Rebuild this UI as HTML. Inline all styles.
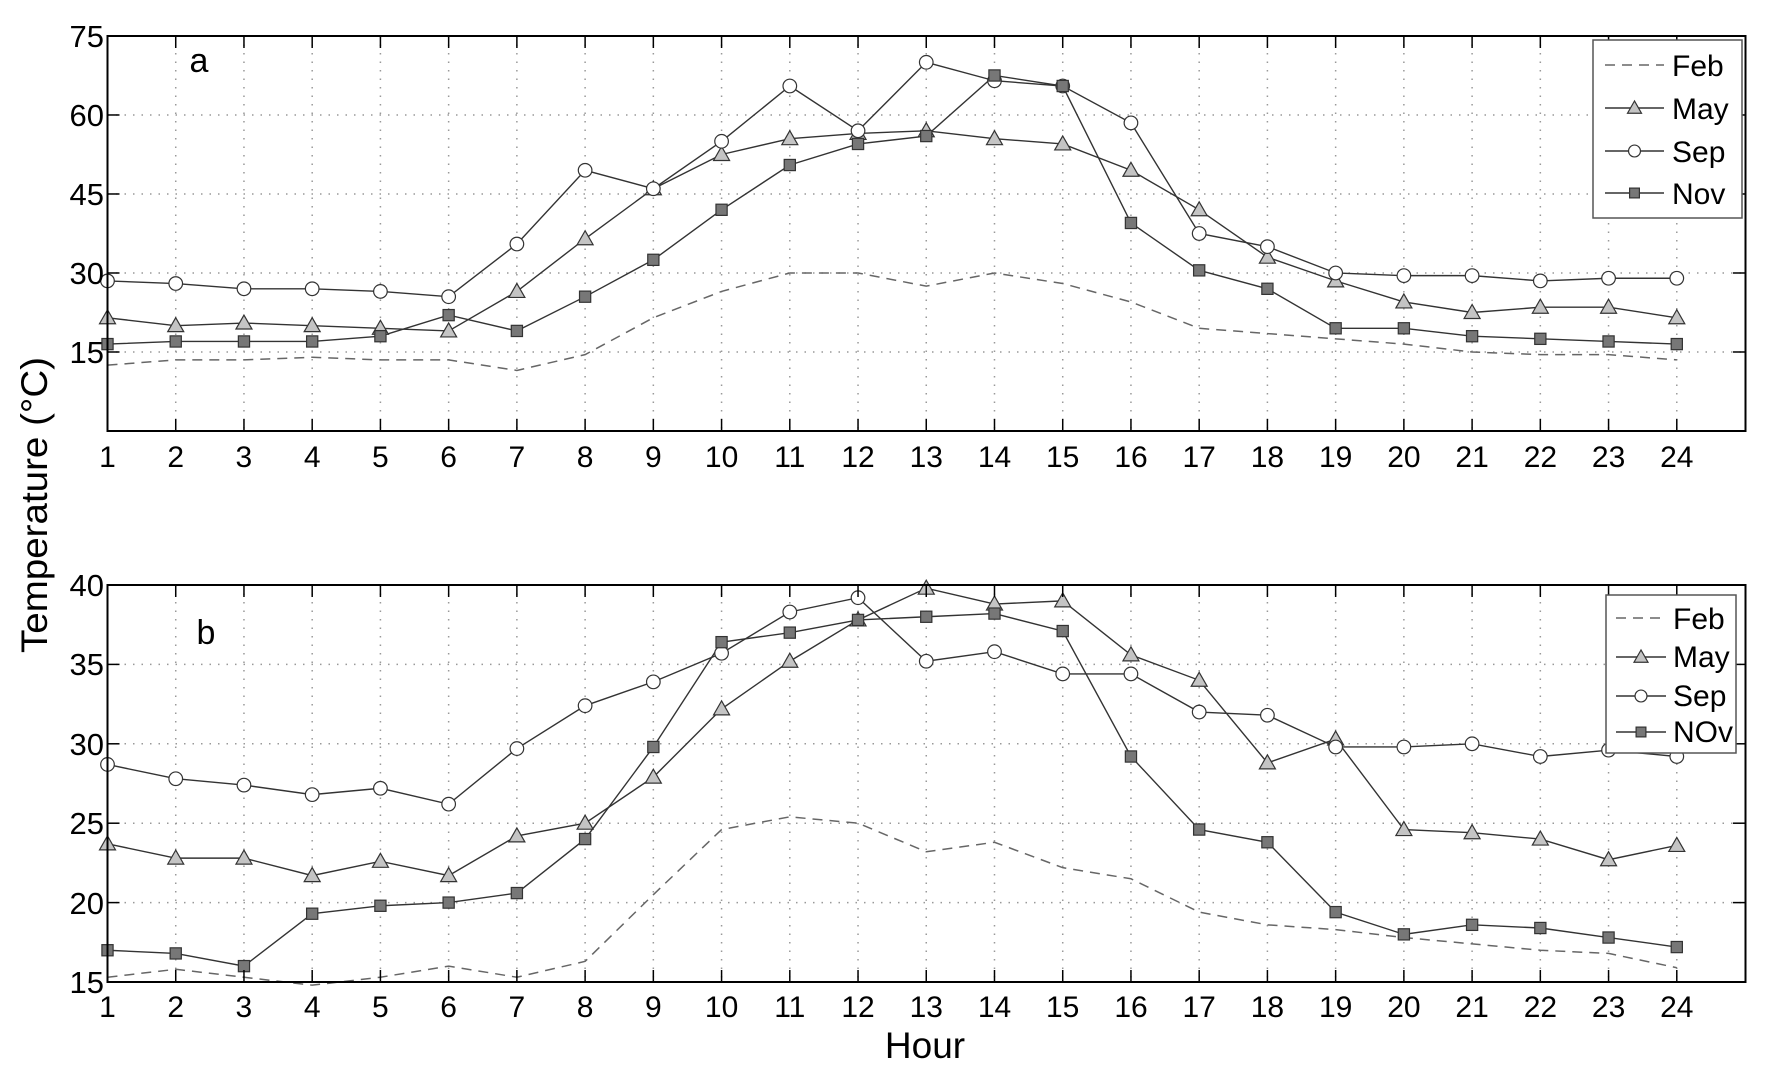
<!DOCTYPE html>
<html><head><meta charset="utf-8"><style>
html,body{margin:0;padding:0;background:#fff;}
svg{display:block;}
text{font-family:"Liberation Sans",Arial,sans-serif;fill:#000;}
</style></head><body>
<svg id="s" width="1772" height="1085" viewBox="0 0 1772 1085" xmlns="http://www.w3.org/2000/svg">
<g id="grid"></g>
<g id="series"></g>
<rect x="107.5" y="36" width="1638" height="395" fill="none" stroke="#000" stroke-width="2"/>
<rect x="107.5" y="585" width="1638" height="397" fill="none" stroke="#000" stroke-width="2"/>
<g id="ticks"></g>
<g font-size="31" text-anchor="end">
<text x="104" y="47">75</text><text x="104" y="126">60</text><text x="104" y="205">45</text><text x="104" y="284">30</text><text x="104" y="363">15</text>
<text x="104" y="596">40</text><text x="104" y="675">35</text><text x="104" y="755">30</text><text x="104" y="834">25</text><text x="104" y="914">20</text><text x="104" y="993">15</text>
</g>
<g font-size="30" text-anchor="middle">
<text x="107.5" y="467">1</text><text x="175.7" y="467">2</text><text x="243.9" y="467">3</text><text x="312.2" y="467">4</text><text x="380.4" y="467">5</text><text x="448.6" y="467">6</text><text x="516.9" y="467">7</text><text x="585.1" y="467">8</text><text x="653.3" y="467">9</text><text x="721.6" y="467">10</text><text x="789.8" y="467">11</text><text x="858" y="467">12</text><text x="926.3" y="467">13</text><text x="994.5" y="467">14</text><text x="1062.7" y="467">15</text><text x="1131" y="467">16</text><text x="1199.2" y="467">17</text><text x="1267.4" y="467">18</text><text x="1335.7" y="467">19</text><text x="1403.9" y="467">20</text><text x="1472.1" y="467">21</text><text x="1540.4" y="467">22</text><text x="1608.6" y="467">23</text><text x="1676.8" y="467">24</text>
<text x="107.5" y="1017">1</text><text x="175.7" y="1017">2</text><text x="243.9" y="1017">3</text><text x="312.2" y="1017">4</text><text x="380.4" y="1017">5</text><text x="448.6" y="1017">6</text><text x="516.9" y="1017">7</text><text x="585.1" y="1017">8</text><text x="653.3" y="1017">9</text><text x="721.6" y="1017">10</text><text x="789.8" y="1017">11</text><text x="858" y="1017">12</text><text x="926.3" y="1017">13</text><text x="994.5" y="1017">14</text><text x="1062.7" y="1017">15</text><text x="1131" y="1017">16</text><text x="1199.2" y="1017">17</text><text x="1267.4" y="1017">18</text><text x="1335.7" y="1017">19</text><text x="1403.9" y="1017">20</text><text x="1472.1" y="1017">21</text><text x="1540.4" y="1017">22</text><text x="1608.6" y="1017">23</text><text x="1676.8" y="1017">24</text>
</g>
<text x="199" y="72" font-size="34" text-anchor="middle">a</text>
<text x="206" y="644" font-size="34" text-anchor="middle">b</text>
<text x="925" y="1058" font-size="37" text-anchor="middle">Hour</text>
<text transform="translate(47,505) rotate(-90)" font-size="37" text-anchor="middle" textLength="296" lengthAdjust="spacingAndGlyphs">Temperature (°C)</text>
<rect x="1593" y="40" width="149" height="178" fill="#fff" stroke="#555" stroke-width="1.5"/>
<rect x="1606" y="595" width="130" height="158" fill="#fff" stroke="#555" stroke-width="1.5"/>
<g id="leg"></g>
<g font-size="30">
<text x="1672" y="76">Feb</text><text x="1672" y="119">May</text><text x="1672" y="162">Sep</text><text x="1672" y="204">Nov</text>
<text x="1673" y="629">Feb</text><text x="1673" y="667">May</text><text x="1673" y="706">Sep</text><text x="1673" y="742">NOv</text>
</g>
</svg>
<script>
var NS="http://www.w3.org/2000/svg";
function el(p,t,a){var e=document.createElementNS(NS,t);for(var k in a)e.setAttribute(k,a[k]);document.getElementById(p).appendChild(e);return e;}
function X(h){return 107.5+(h-1)*68.23;}
function YA(v){return 431-v*5.267;}
function YB(v){return 982-(v-15)*15.88;}
for(var h=2;h<=24;h++){
 el("grid","line",{x1:X(h),x2:X(h),y1:36,y2:431,stroke:"#999","stroke-dasharray":"1.5 7","stroke-width":1.5});
 el("grid","line",{x1:X(h),x2:X(h),y1:585,y2:982,stroke:"#999","stroke-dasharray":"1.5 7","stroke-width":1.5});
 [[36,1],[431,-1],[585,1],[982,-1]].forEach(function(p){el("ticks","line",{x1:X(h),x2:X(h),y1:p[0],y2:p[0]+p[1]*12,stroke:"#000","stroke-width":1.5});});
}
[15,30,45,60].forEach(function(v){el("grid","line",{x1:107.5,x2:1745,y1:YA(v),y2:YA(v),stroke:"#999","stroke-dasharray":"1.5 7","stroke-width":1.5});
 el("ticks","line",{x1:107.5,x2:119.5,y1:YA(v),y2:YA(v),stroke:"#000","stroke-width":1.5});el("ticks","line",{x1:1745,x2:1733,y1:YA(v),y2:YA(v),stroke:"#000","stroke-width":1.5});});
[20,25,30,35].forEach(function(v){el("grid","line",{x1:107.5,x2:1745,y1:YB(v),y2:YB(v),stroke:"#999","stroke-dasharray":"1.5 7","stroke-width":1.5});
 el("ticks","line",{x1:107.5,x2:119.5,y1:YB(v),y2:YB(v),stroke:"#000","stroke-width":1.5});el("ticks","line",{x1:1745,x2:1733,y1:YB(v),y2:YB(v),stroke:"#000","stroke-width":1.5});});
var A={feb:[12.5,13.5,13.5,14,13.5,13.5,11.5,14.5,21.5,26.5,30,30,27.5,30,28,24.5,19.5,18.5,17.5,16.5,15,14.5,14.5,13.5],
may:[21.5,20,20.5,20,19.5,19,26.5,36.5,46,52.5,55.5,56.5,57,55.5,54.5,49.5,42,33,28.5,24.5,22.5,23.5,23.5,21.5],
sep:[28.5,28,27,27,26.5,25.5,35.5,49.5,46,55,65.5,57,70,66.5,65.5,58.5,37.5,35,30,29.5,29.5,28.5,29,29],
nov:[16.5,17,17,17,18,22,19,25.5,32.5,42,50.5,54.5,56,67.5,65.5,39.5,30.5,27,19.5,19.5,18,17.5,17,16.5]};
var B={feb:[15.3,15.8,15.3,14.8,15.3,16.0,15.3,16.3,20.5,24.6,25.4,25.0,23.2,23.8,22.2,21.5,19.4,18.6,18.3,17.8,17.4,17.0,16.8,15.9],
may:[23.7,22.8,22.8,21.7,22.6,21.7,24.2,25.0,27.9,32.2,35.2,37.8,39.8,38.8,39.0,35.6,34.0,28.8,30.3,24.6,24.4,24.0,22.7,23.6],
sep:[28.7,27.8,27.4,26.8,27.2,26.2,29.7,32.4,33.9,35.7,38.3,39.2,35.2,35.8,34.4,34.4,32.0,31.8,29.8,29.8,30.0,29.2,29.6,29.2],
nov:[17.0,16.8,16.0,19.3,19.8,20.0,20.6,24.0,29.8,36.4,37.0,37.8,38.0,38.2,37.1,29.2,24.6,23.8,19.4,18.0,18.6,18.4,17.8,17.2]};
function marker(g,k,x,y,s){
 if(k=="may")el(g,"polygon",{points:(x)+","+(y-s)+" "+(x-s)+","+(y+s*0.75)+" "+(x+s)+","+(y+s*0.75),fill:"#c4c4c4",stroke:"#333","stroke-width":1.2});
 if(k=="sep")el(g,"circle",{cx:x,cy:y,r:s*0.85,fill:"#fff",stroke:"#333","stroke-width":1.2});
 if(k=="nov")el(g,"rect",{x:x-s*0.7,y:y-s*0.7,width:s*1.4,height:s*1.4,fill:"#777",stroke:"#333","stroke-width":1.2});
}
function draw(D,Y){
 ["feb","may","sep","nov"].forEach(function(k){
  var pts=D[k].map(function(v,i){return X(i+1)+","+Y(v);}).join(" ");
  if(k=="feb")el("series","polyline",{points:pts,fill:"none",stroke:"#666","stroke-width":1.5,"stroke-dasharray":"10 7"});
  else el("series","polyline",{points:pts,fill:"none",stroke:"#333","stroke-width":1.4});
 });
 ["may","sep","nov"].forEach(function(k){D[k].forEach(function(v,i){marker("series",k,X(i+1),Y(v),8);});});
}
draw(A,YA);draw(B,YB);
[[65,108,151,193,1605,1664],[618,657,696,732,1616,1666]].forEach(function(L){
 var ks=["feb","may","sep","nov"];
 for(var i=0;i<4;i++){var y=L[i];
  el("leg","line",{x1:L[4],x2:L[5],y1:y,y2:y,stroke:i==0?"#666":"#333","stroke-width":1.5,"stroke-dasharray":i==0?"10 7":"none"});
  marker("leg",ks[i],(L[4]+L[5])/2,y,7);}
});
</script>
</body></html>
